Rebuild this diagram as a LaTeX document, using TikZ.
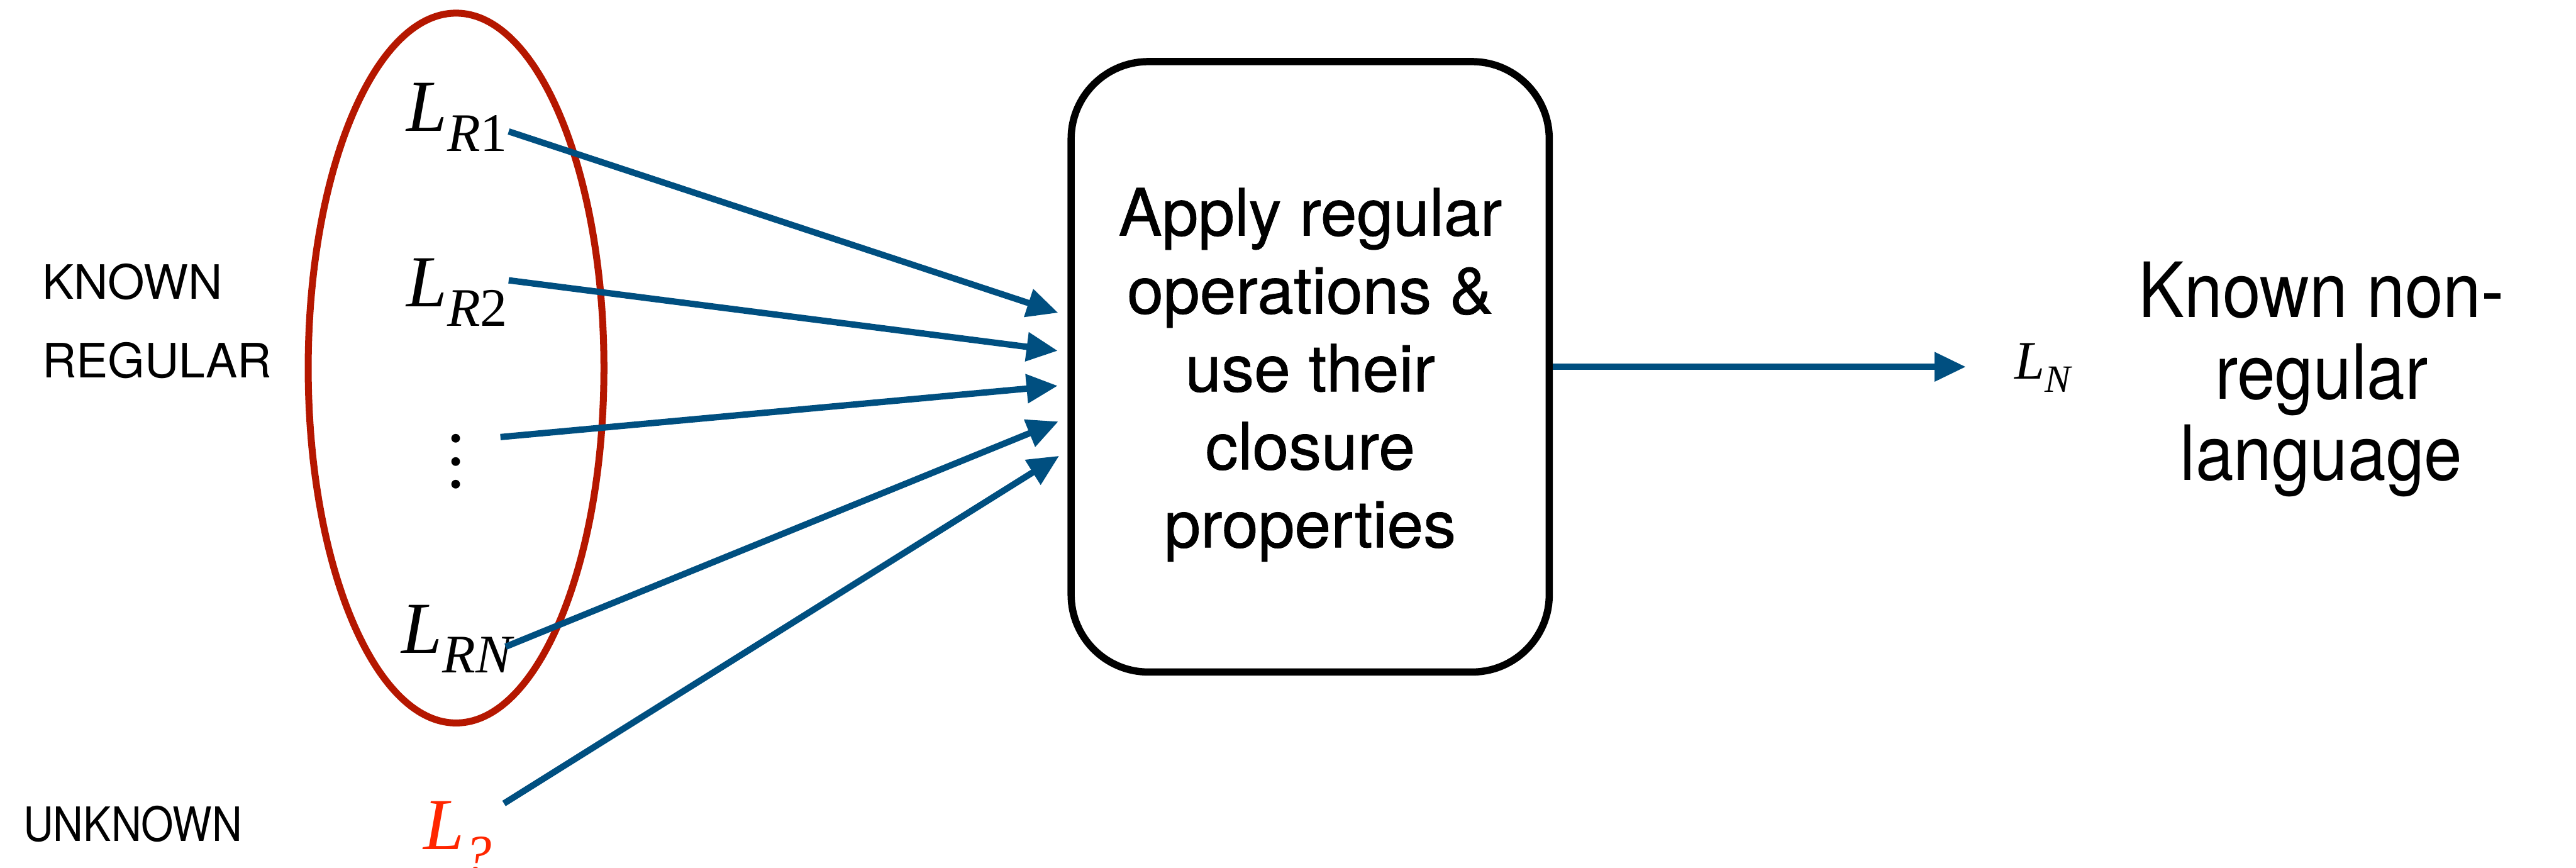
\documentclass[tikz,border=0pt]{standalone}
\usepackage{fontspec}
\setmainfont{Liberation Serif}
\setsansfont{TeX Gyre Heros}
\newfontfamily\boxfont{TeX Gyre Heros}[FakeBold=0.7]
\usepackage{tikz}
\usetikzlibrary{arrows.meta,positioning}
\definecolor{setRed}{RGB}{181,23,0}
\definecolor{arrBlue}{RGB}{0,79,128}
\definecolor{qRed}{RGB}{255,38,0}
\newcommand{\lang}[2][-3.4pt]{\textit{L}\raisebox{#1}{\fontsize{9.4}{10}\selectfont#2}}
\tikzstyle{lbl}=[inner sep=0pt, font=\fontsize{12.7}{14}\selectfont]
\tikzstyle{side}=[inner sep=0pt, font=\sffamily\fontsize{8.2}{13.6}\selectfont, align=left]
\tikzstyle{opBox}=[draw, line width=1.25pt, rounded corners=0.47cm, minimum width=2.91cm, minimum height=3.715cm, inner sep=0pt, align=center, font=\boxfont\fontsize{11.3}{13.5}\selectfont]
\tikzstyle{arr}=[draw=arrBlue, line width=1.1pt, -{Triangle[length=1.9mm,width=1.7mm]}, shorten >=0.6mm]

\begin{document}
\begin{tikzpicture}[scale=1]%[x=1 cm, y=1 cm]
                \useasboundingbox (0,0) rectangle (15.68,5.28);
                \draw[setRed, line width=1.2pt] (2.776,3.04) ellipse [x radius=0.9, y radius=2.16];
                \draw (2.467,4.48) node[lbl, anchor=base west] (lr1) {\lang{\textit{R}1}};
                \draw (2.467,3.414) node[lbl, anchor=base west] (lr2) {\lang{\textit{R}2}};
                \draw (2.776,2.31) node[lbl, anchor=base] (dots) {\vdots};
                \draw (2.438,1.304) node[lbl, anchor=base west] (lrn) {\lang{\textit{RN}}};
                \draw (2.57,0.11) node[lbl, anchor=base west, text=qRed] (lq) {\lang[-4pt]{\textit{?}}};
                \draw (0.25,3.326) node[side, anchor=west] (known) {KNOWN\\REGULAR};
                \draw (0.136,0.16) node[side, anchor=base west, xscale=0.88, transform shape] (unknown) {UNKNOWN};
                \draw (7.975,3.0475) node[opBox] (box) {\rule{0pt}{11pt}Apply regular\\operations \&\\use their\\closure\\properties};
                \draw (12.256,2.975) node[lbl, anchor=base west, font=\fontsize{9.4}{10}\selectfont] (ln) {\textit{L}\raisebox{-2.3pt}{\fontsize{6.7}{7}\selectfont\textit{N}}};
                \draw (14.13,2.97) node[inner sep=0pt, align=center, xscale=0.9, transform shape, font=\sffamily\fontsize{13.2}{14.1}\selectfont] (nonreg) {Known non-\\regular\\language};
                \path
                    (lr1.base east) edge[arr] ([yshift=3.1mm]box.west)
                    ([yshift=1.6mm]lr2.base east) edge[arr] ([yshift=0.9mm]box.west)
                    ([xshift=2.7mm,yshift=3.1mm]dots.base) edge[arr] ([yshift=-1.1mm]box.west)
                    ([xshift=-0.6mm,yshift=0.4mm]lrn.base east) edge[arr] ([yshift=-3.1mm]box.west)
                    ([xshift=0.7mm,yshift=2.8mm]lq.base east) edge[arr] ([yshift=-5.1mm]box.west)
                    (box.east) edge[arr, shorten >=2.9mm] (box.east -| ln.west)
                ;
        \end{tikzpicture}
\end{document}
